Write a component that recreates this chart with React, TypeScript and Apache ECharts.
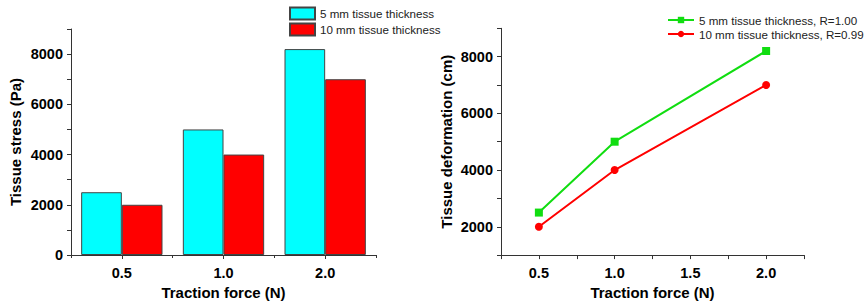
import React, { useEffect, useRef } from "react";
import * as echarts from "echarts";

const forceCategories = ["0.5", "1.0", "2.0"];
const stressThick5 = [2500, 5000, 8200];
const stressThick10 = [2000, 4000, 7000];

const forceValues = [0.5, 1.0, 2.0];
const deformThick5 = [2500, 5000, 8200];
const deformThick10 = [2000, 4000, 7000];

const barLegend = ["5 mm tissue thickness", "10 mm tissue thickness"];
const lineLegend = ["5 mm tissue thickness, R=1.00", "10 mm tissue thickness, R=0.99"];

const FONT = "'Liberation Sans', Arial, sans-serif";
const AXIS_COLOR = "#333";

export default function App() {
  const ref = useRef<HTMLDivElement>(null);

  useEffect(() => {
    document.body.style.margin = "0";
    if (!ref.current) return;
    const chart = echarts.init(ref.current, null, { renderer: "svg" });

    const axisLine = { show: true, lineStyle: { color: AXIS_COLOR, width: 1 } };
    const tickLabel = { color: "#000", fontSize: 14.5, fontWeight: "bold" as const, fontFamily: FONT };
    const nameStyle = { color: "#000", fontSize: 15, fontWeight: "bold" as const, fontFamily: FONT };

    const evenThousand = (v: number) => (Math.round(v / 1000) % 2 === 0 ? String(v) : "");
    const halfStep = (v: number) => (Math.round(v * 4) % 2 === 0 ? v.toFixed(1) : "");

    chart.setOption({
      animation: false,
      textStyle: { fontFamily: FONT },
      grid: [
        { left: 71, top: 29, width: 305, height: 226 },
        { left: 501, top: 28.3, width: 303, height: 228.4 },
      ],
      legend: [
        {
          data: barLegend,
          orient: "vertical",
          left: 289,
          top: 6.5,
          padding: 0,
          icon: "rect",
          itemWidth: 25,
          itemHeight: 12,
          itemGap: 2,
          textStyle: { fontSize: 11.6, color: "#222", fontFamily: FONT },
        },
        {
          data: lineLegend,
          orient: "vertical",
          left: 667,
          top: 14,
          padding: 0,
          itemWidth: 26,
          itemHeight: 8,
          itemGap: 2,
          textStyle: { fontSize: 11.6, color: "#222", fontFamily: FONT },
        },
      ],
      xAxis: [
        {
          type: "category",
          gridIndex: 0,
          data: forceCategories,
          axisLine,
          axisTick: { show: true, alignWithLabel: true, length: 4, lineStyle: { color: AXIS_COLOR } },
          axisLabel: { ...tickLabel, margin: 10 },
          name: "Traction force (N)",
          nameLocation: "middle",
          nameGap: 25,
          nameTextStyle: nameStyle,
          splitLine: { show: false },
        },
        {
          type: "category",
          gridIndex: 0,
          data: forceCategories,
          position: "bottom",
          axisLine: { show: false },
          axisTick: { show: true, length: 3, lineStyle: { color: AXIS_COLOR } },
          axisLabel: { show: false },
          splitLine: { show: false },
        },
        {
          type: "value",
          gridIndex: 1,
          min: 0.25,
          max: 2.25,
          interval: 0.25,
          axisLine,
          axisTick: { show: true, length: 4, lineStyle: { color: AXIS_COLOR } },
          axisLabel: { ...tickLabel, margin: 10, formatter: halfStep, showMinLabel: true, showMaxLabel: true },
          name: "Traction force (N)",
          nameLocation: "middle",
          nameGap: 25,
          nameTextStyle: nameStyle,
          splitLine: { show: false },
        },
      ],
      yAxis: [
        {
          type: "value",
          gridIndex: 0,
          min: 0,
          max: 9000,
          interval: 1000,
          axisLine,
          axisTick: { show: true, length: 4, lineStyle: { color: AXIS_COLOR } },
          axisLabel: { ...tickLabel, margin: 8, formatter: evenThousand },
          name: "Tissue stress (Pa)",
          nameLocation: "middle",
          nameGap: 48,
          nameTextStyle: nameStyle,
          splitLine: { show: false },
        },
        {
          type: "value",
          gridIndex: 1,
          min: 1000,
          max: 9000,
          interval: 1000,
          axisLine,
          axisTick: { show: true, length: 4, lineStyle: { color: AXIS_COLOR } },
          axisLabel: { ...tickLabel, margin: 8, formatter: evenThousand },
          name: "Tissue deformation (cm)",
          nameLocation: "middle",
          nameGap: 47,
          nameTextStyle: nameStyle,
          splitLine: { show: false },
        },
      ],
      series: [
        {
          name: barLegend[0],
          type: "bar",
          xAxisIndex: 0,
          yAxisIndex: 0,
          data: stressThick5,
          barGap: "0%",
          barCategoryGap: "20%",
          itemStyle: { color: "#00ffff", borderColor: "#444", borderWidth: 1 },
        },
        {
          name: barLegend[1],
          type: "bar",
          xAxisIndex: 0,
          yAxisIndex: 0,
          data: stressThick10,
          barGap: "0%",
          barCategoryGap: "20%",
          itemStyle: { color: "#ff0000", borderColor: "#444", borderWidth: 1 },
        },
        {
          name: lineLegend[0],
          type: "line",
          xAxisIndex: 2,
          yAxisIndex: 1,
          data: forceValues.map((f, i) => [f, deformThick5[i]]),
          symbol: "rect",
          symbolSize: 8,
          lineStyle: { color: "#11dd11", width: 2 },
          itemStyle: { color: "#11dd11" },
        },
        {
          name: lineLegend[1],
          type: "line",
          xAxisIndex: 2,
          yAxisIndex: 1,
          data: forceValues.map((f, i) => [f, deformThick10[i]]),
          symbol: "circle",
          symbolSize: 8,
          lineStyle: { color: "#ff0000", width: 2 },
          itemStyle: { color: "#ff0000" },
        },
      ],
    });

    return () => chart.dispose();
  }, []);

  return <div ref={ref} style={{ width: 865, height: 305 }} />;
}
